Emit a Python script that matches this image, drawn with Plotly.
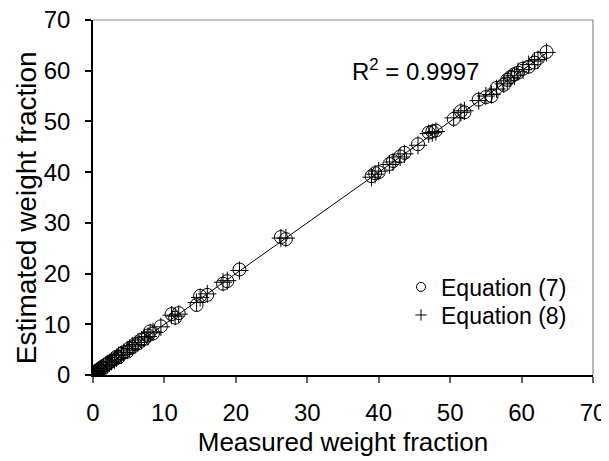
import plotly.graph_objects as go

measured = [0.1, 0.2, 0.3, 0.5, 0.6, 0.8, 1.0, 1.2, 1.5, 1.8, 2.0, 2.3, 2.6, 3.0, 3.3,
            3.6, 4.0, 4.3, 4.8, 5.1, 5.5, 5.9, 6.3, 6.8, 7.2, 7.7, 8.0, 8.4, 9.5, 11.0,
            11.5, 12.0, 14.5, 15.0, 16.0, 18.2, 18.8, 20.5, 26.3, 27.0, 39.0, 39.5, 40.0,
            41.5, 42.0, 43.0, 43.6, 45.5, 47.0, 47.5, 48.0, 50.5, 51.5, 52.0, 54.0, 55.0,
            55.8, 56.5, 57.5, 58.0, 58.5, 59.0, 59.5, 60.2, 61.0, 61.8, 62.3, 63.5]
eq7 = [0.2, 0.1, 0.5, 0.4, 0.9, 1.0, 1.1, 1.5, 1.4, 2.0, 2.2, 2.5, 2.8, 3.1, 3.6,
       3.5, 4.2, 4.5, 4.6, 5.3, 5.5, 6.1, 6.2, 7.0, 7.1, 7.8, 8.6, 8.2, 9.6, 12.0,
       11.3, 12.2, 13.8, 15.6, 15.8, 18.0, 18.5, 20.8, 27.2, 26.8, 39.2, 39.8, 40.0,
       41.6, 42.2, 43.1, 43.8, 45.5, 47.8, 48.0, 48.2, 50.5, 52.0, 51.8, 54.3, 54.8,
       55.0, 56.6, 57.2, 58.2, 58.8, 59.3, 59.6, 60.4, 60.8, 61.6, 62.4, 63.7]
eq8 = [0.1, 0.3, 0.4, 0.6, 0.7, 0.9, 1.2, 1.3, 1.6, 1.9, 2.1, 2.4, 2.7, 3.0, 3.4,
       3.8, 4.0, 4.4, 4.9, 5.2, 5.7, 6.0, 6.4, 6.9, 7.3, 7.6, 8.3, 8.5, 9.5, 11.8,
       11.6, 12.0, 14.3, 15.3, 16.0, 18.3, 18.6, 20.6, 27.0, 27.0, 39.0, 39.6, 40.2,
       41.5, 42.0, 43.0, 43.6, 45.3, 47.6, 47.8, 48.0, 50.7, 51.8, 52.1, 54.1, 55.0,
       55.3, 56.4, 57.4, 58.0, 58.6, 59.0, 59.8, 60.2, 61.2, 61.9, 62.2, 63.6]
fit_x = [0.0, 63.5]
fit_y = [0.0, 63.5]
r2_text = "R<sup>2</sup> = 0.9997"
x_title = "Measured weight fraction"
y_title = "Estimated weight fraction"
x_ticks = [0, 10, 20, 30, 40, 50, 60, 70]
y_ticks = [0, 10, 20, 30, 40, 50, 60, 70]

FONT = "Liberation Sans, Arial, sans-serif"

fig = go.Figure()
fig.add_trace(go.Scatter(x=fit_x, y=fit_y, mode="lines",
                         line=dict(color="black", width=1), showlegend=False,
                         hoverinfo="skip"))
fig.add_trace(go.Scatter(x=measured, y=eq7, mode="markers", name="Equation (7)",
                         marker=dict(symbol="circle-open", size=13,
                                     line=dict(color="black", width=1), color="black"),
                         showlegend=False))
fig.add_trace(go.Scatter(x=measured, y=eq8, mode="markers", name="Equation (8)",
                         marker=dict(symbol="cross-thin-open", size=13,
                                     line=dict(color="black", width=1), color="black"),
                         showlegend=False))
# legend entries with smaller symbols, one legend box per row
fig.add_trace(go.Scatter(x=[None], y=[None], mode="markers", name="Equation (7)",
                         legend="legend",
                         marker=dict(symbol="circle-open", size=9,
                                     line=dict(color="black", width=1), color="black")))
fig.add_trace(go.Scatter(x=[None], y=[None], mode="markers", name="Equation (8)",
                         legend="legend2",
                         marker=dict(symbol="cross-thin-open", size=8,
                                     line=dict(color="black", width=1), color="black")))

axis_common = dict(range=[0, 70], showgrid=False, zeroline=False, showline=True,
                   linecolor="black", linewidth=1.5, ticks="outside", ticklen=6,
                   tickwidth=1.5, automargin=False, ticklabeloverflow="allow",
                   tickfont=dict(size=24, color="black", family=FONT))

fig.update_xaxes(**axis_common, tickvals=x_ticks, tickcolor="#666",
                 ticklabelstandoff=9,
                 title=dict(text=x_title, standoff=8,
                            font=dict(size=26, color="black", family=FONT)))
fig.update_yaxes(**axis_common, tickvals=y_ticks, tickcolor="black",
                 ticklabelstandoff=10)

fig.add_annotation(text=y_title, xref="paper", yref="paper", x=-0.134, y=0.47,
                   textangle=-90, showarrow=False, xanchor="center", yanchor="middle",
                   font=dict(size=28, color="black", family=FONT))

fig.add_shape(type="line", xref="paper", yref="paper", x0=0, x1=1, y0=1, y1=1,
              line=dict(color="#888", width=1.2))
fig.add_shape(type="line", xref="paper", yref="paper", x0=1, x1=1, y0=0, y1=1,
              line=dict(color="#888", width=1.2))

fig.add_annotation(text=r2_text, xref="paper", yref="paper", x=0.645, y=0.908,
                   showarrow=False, font=dict(size=24, color="black", family=FONT))

legend_style = dict(xanchor="left", yanchor="middle",
                    font=dict(size=23, color="black", family=FONT),
                    bgcolor="rgba(0,0,0,0)", itemwidth=30)
fig.update_layout(
    template="none",
    width=601, height=453,
    margin=dict(l=85, r=16, t=12, b=86),
    paper_bgcolor="white", plot_bgcolor="white",
    font=dict(family=FONT, color="black"),
    legend=dict(x=0.616, y=0.248, **legend_style),
    legend2=dict(x=0.616, y=0.169, **legend_style),
)

fig.write_html("out.html")
